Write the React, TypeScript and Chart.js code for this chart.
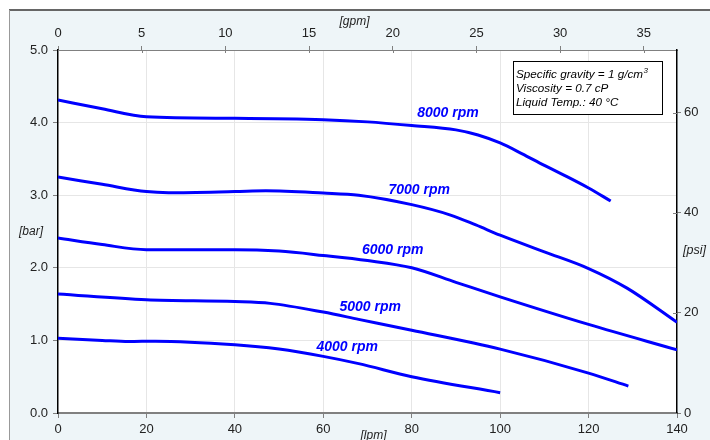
import React, { useEffect, useRef } from "react";
import { Chart, registerables } from "chart.js";

Chart.register(...registerables);

const LPM_PER_GPM = 3.785411784;
const PSI_PER_BAR = 14.5037738;

const lpmTicks = [0, 20, 40, 60, 80, 100, 120, 140];
const gpmTicks = [0, 5, 10, 15, 20, 25, 30, 35];
const barTicks = [0, 1, 2, 3, 4, 5];
const psiTicks = [0, 20, 40, 60];

const flow8000 = [0, 10, 20, 40, 60, 70, 80, 90, 95, 100, 105, 110, 115, 120, 125];
const bar8000 = [4.31, 4.19, 4.08, 4.06, 4.04, 4.01, 3.96, 3.9, 3.83, 3.72, 3.57, 3.41, 3.26, 3.1, 2.92];

const flow7000 = [0, 10, 20, 25, 40, 47, 60, 68, 80, 88.6, 94.5, 100, 110, 120, 128.7, 140];
const bar7000 = [3.25, 3.15, 3.05, 3.035, 3.05, 3.06, 3.03, 3.0, 2.87, 2.73, 2.59, 2.45, 2.22, 1.99, 1.72, 1.25];

const flow6000 = [0, 10, 20, 40, 50, 60, 70, 80, 90, 100, 120, 140];
const bar6000 = [2.41, 2.32, 2.25, 2.25, 2.23, 2.17, 2.1, 2.0, 1.8, 1.6, 1.22, 0.87];

const flow5000 = [0, 20, 40, 48, 60, 68, 80, 100, 120, 129];
const bar5000 = [1.64, 1.56, 1.535, 1.51, 1.39, 1.29, 1.14, 0.88, 0.55, 0.37];

const flow4000 = [0, 10, 16, 22, 40, 50, 60, 68, 80, 100];
const bar4000 = [1.03, 1.0, 0.985, 0.99, 0.94, 0.88, 0.78, 0.68, 0.5, 0.28];

const curveNames = ["8000 rpm", "7000 rpm", "6000 rpm", "5000 rpm", "4000 rpm"];
const labelFlow = [88.2, 81.7, 75.7, 70.6, 65.4];
const labelBar = [4.13, 3.07, 2.25, 1.46, 0.91];

const infoLines = ["Specific gravity = 1 g/cm", "Viscosity = 0.7 cP", "Liquid Temp.: 40 °C"];
const infoSup = "3";

const FONT = "'Liberation Sans', Arial, sans-serif";
const BLUE = "#0000ff";
const BG = "#eef5f8";

const series = [
  [flow8000, bar8000],
  [flow7000, bar7000],
  [flow6000, bar6000],
  [flow5000, bar5000],
  [flow4000, bar4000],
];

const decorPlugin = {
  id: "decor",
  beforeDraw(chart: any) {
    const { ctx, width, height, chartArea } = chart;
    ctx.save();
    ctx.fillStyle = "#ffffff";
    ctx.fillRect(0, 0, width, height);
    ctx.fillStyle = BG;
    ctx.fillRect(1, 2, width - 1, height - 2);
    ctx.strokeStyle = "#666666";
    ctx.lineWidth = 2;
    ctx.beginPath();
    ctx.moveTo(1, 2);
    ctx.lineTo(width, 2);
    ctx.stroke();
    ctx.strokeStyle = "#999999";
    ctx.lineWidth = 1;
    ctx.beginPath();
    ctx.moveTo(1.5, 2);
    ctx.lineTo(1.5, height);
    ctx.stroke();
    ctx.fillStyle = "#ffffff";
    ctx.fillRect(chartArea.left, chartArea.top, chartArea.right - chartArea.left, chartArea.bottom - chartArea.top);
    ctx.restore();
  },
  afterDraw(chart: any) {
    const { ctx, chartArea, scales } = chart;
    const xs = scales.x;
    const ys = scales.y;
    ctx.save();
    // inward tick marks on top and right axes
    ctx.strokeStyle = "#808080";
    ctx.lineWidth = 1;
    ctx.beginPath();
    scales.x2.ticks.forEach((t: any) => {
      const px = Math.round(scales.x2.getPixelForValue(t.value)) + 0.5;
      ctx.moveTo(px, chartArea.top);
      ctx.lineTo(px, chartArea.top + 3);
    });
    scales.y2.ticks.forEach((t: any) => {
      const py = Math.round(scales.y2.getPixelForValue(t.value)) + 0.5;
      ctx.moveTo(chartArea.right, py);
      ctx.lineTo(chartArea.right - 4, py);
    });
    ctx.stroke();
    // curve labels
    ctx.fillStyle = BLUE;
    ctx.font = `italic bold 14px ${FONT}`;
    ctx.textAlign = "center";
    ctx.textBaseline = "middle";
    curveNames.forEach((name, i) => {
      ctx.fillText(name, xs.getPixelForValue(labelFlow[i]), ys.getPixelForValue(labelBar[i]));
    });
    // info box
    const bx = chartArea.right - 164;
    const by = chartArea.top + 11;
    const bw = 149;
    const bh = 53;
    ctx.fillStyle = "#ffffff";
    ctx.fillRect(bx, by, bw, bh);
    ctx.strokeStyle = "#000000";
    ctx.lineWidth = 1;
    ctx.strokeRect(bx + 0.5, by + 0.5, bw, bh);
    ctx.fillStyle = "#000000";
    ctx.font = `italic 11.7px ${FONT}`;
    ctx.textAlign = "left";
    ctx.textBaseline = "middle";
    infoLines.forEach((t, i) => {
      const ty = by + 13.5 + i * 14;
      ctx.fillText(t, bx + 3, ty);
      if (i === 0) {
        const w = ctx.measureText(t).width;
        ctx.font = `italic 8px ${FONT}`;
        ctx.fillText(infoSup, bx + 3 + w + 0.5, ty - 4);
        ctx.font = `italic 11.7px ${FONT}`;
      }
    });
    // axis titles
    ctx.fillStyle = "#222222";
    ctx.font = `italic 12px ${FONT}`;
    ctx.textAlign = "center";
    ctx.fillText("[bar]", chartArea.left - 27, (chartArea.top + chartArea.bottom) / 2);
    ctx.fillText("[gpm]", (chartArea.left + chartArea.right) / 2 - 13, chartArea.top - 28);
    ctx.fillText("[lpm]", (chartArea.left + chartArea.right) / 2 + 6, chartArea.bottom + 23);
    ctx.textAlign = "left";
    ctx.font = `italic 12.5px ${FONT}`;
    ctx.fillText("[psi]", chartArea.right + 6, (chartArea.top + chartArea.bottom) / 2 + 19);
    ctx.restore();
  },
};

export default function App() {
  const ref = useRef<HTMLCanvasElement>(null);
  useEffect(() => {
    if (!ref.current) return;
    const tickFont = { family: FONT, size: 13 };
    const chart = new Chart(ref.current, {
      type: "scatter",
      data: {
        datasets: series.map(([f, b], i) => ({
          label: curveNames[i],
          data: f.map((x, j) => ({ x, y: b[j] })),
          showLine: true,
          borderColor: BLUE,
          backgroundColor: BLUE,
          borderWidth: 3,
          pointRadius: 0,
          cubicInterpolationMode: "monotone" as const,
          xAxisID: "x",
          yAxisID: "y",
        })),
      },
      options: {
        animation: false,
        responsive: false,
        maintainAspectRatio: false,
        layout: { padding: 0 },
        plugins: { legend: { display: false }, tooltip: { enabled: false } },
        scales: {
          x: {
            type: "linear",
            position: "bottom",
            min: 0,
            max: 140,
            afterBuildTicks: (s: any) => {
              s.ticks = lpmTicks.map((v) => ({ value: v }));
            },
            afterFit: (s: any) => {
              s.height = 27;
            },
            grid: {
              color: (c: any) => (c.tick && (c.tick.value === 0 || c.tick.value === 140) ? "rgba(0,0,0,0)" : "#e6e6e6"),
              tickColor: "#808080",
              tickLength: 5,
              lineWidth: 1,
            },
            border: { color: "#808080", width: 2 },
            ticks: { color: "#222", font: tickFont, padding: 4, maxRotation: 0, autoSkip: false },
          },
          x2: {
            type: "linear",
            position: "top",
            min: 0,
            max: 140 / LPM_PER_GPM,
            afterBuildTicks: (s: any) => {
              s.ticks = gpmTicks.map((v) => ({ value: v }));
            },
            afterFit: (s: any) => {
              s.height = 42;
            },
            grid: { drawOnChartArea: false, tickColor: "#808080", tickLength: 4 },
            border: { color: "#808080", width: 1 },
            ticks: { color: "#222", font: tickFont, padding: 5, maxRotation: 0, autoSkip: false },
          },
          y: {
            type: "linear",
            position: "left",
            min: 0,
            max: 5,
            afterBuildTicks: (s: any) => {
              s.ticks = barTicks.map((v) => ({ value: v }));
            },
            afterFit: (s: any) => {
              s.width = 50;
            },
            grid: {
              color: (c: any) => (c.tick && (c.tick.value === 0 || c.tick.value === 5) ? "rgba(0,0,0,0)" : "#e6e6e6"),
              tickColor: "#808080",
              tickLength: 5,
              lineWidth: 1,
            },
            border: { color: "#000000", width: 1.5 },
            ticks: {
              color: "#222",
              font: tickFont,
              padding: 5,
              callback: (v: any) => Number(v).toFixed(1),
            },
          },
          y2: {
            type: "linear",
            position: "right",
            min: 0,
            max: 5 * PSI_PER_BAR,
            afterBuildTicks: (s: any) => {
              s.ticks = psiTicks.map((v) => ({ value: v }));
            },
            afterFit: (s: any) => {
              s.width = 33;
            },
            grid: { drawOnChartArea: false, tickColor: "#808080", tickLength: 4 },
            border: { color: "#000000", width: 1.5 },
            ticks: { color: "#222", font: tickFont, padding: 3 },
          },
        },
      },
      plugins: [decorPlugin],
    } as any);
    return () => chart.destroy();
  }, []);
  return (
    <div style={{ position: "absolute", left: 8, top: 8, width: 702, height: 432, overflow: "hidden" }}>
      <canvas ref={ref} width={702} height={432} style={{ display: "block", width: 702, height: 432 }} />
    </div>
  );
}
